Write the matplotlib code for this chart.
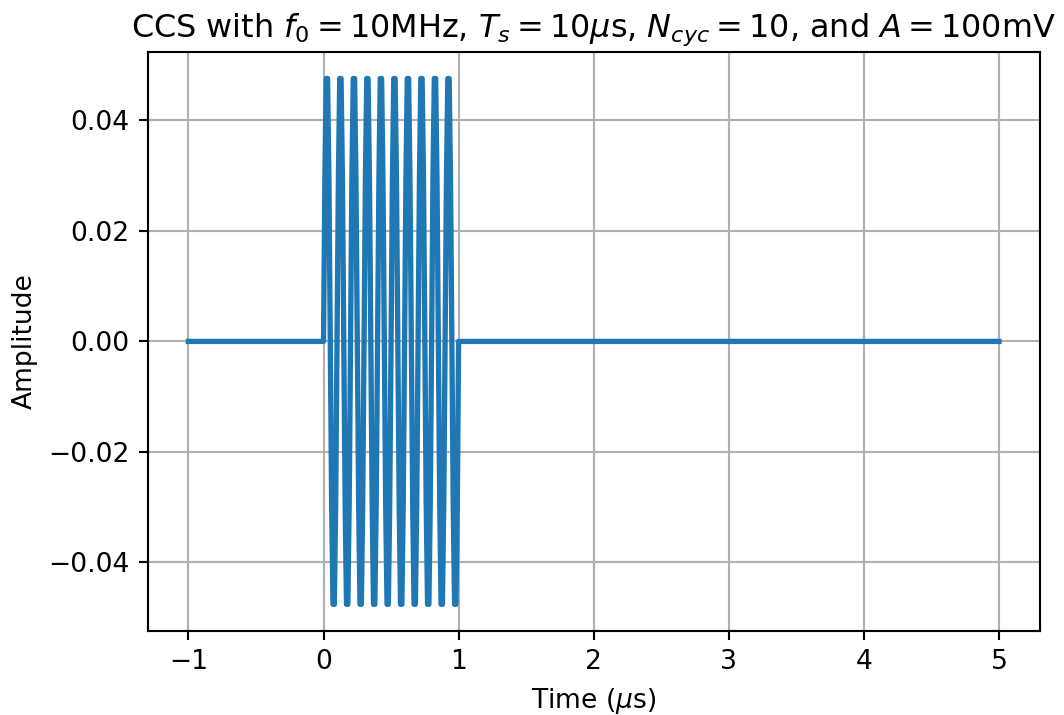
import matplotlib
matplotlib.use("Agg")
import matplotlib.pyplot as plt

# burst samples (us) - 10 samples per 10 MHz cycle, 10 cycles
burst_t = [0.00, 0.01, 0.02, 0.03, 0.04, 0.05, 0.06, 0.07, 0.08, 0.09,
           0.10, 0.11, 0.12, 0.13, 0.14, 0.15, 0.16, 0.17, 0.18, 0.19,
           0.20, 0.21, 0.22, 0.23, 0.24, 0.25, 0.26, 0.27, 0.28, 0.29,
           0.30, 0.31, 0.32, 0.33, 0.34, 0.35, 0.36, 0.37, 0.38, 0.39,
           0.40, 0.41, 0.42, 0.43, 0.44, 0.45, 0.46, 0.47, 0.48, 0.49,
           0.50, 0.51, 0.52, 0.53, 0.54, 0.55, 0.56, 0.57, 0.58, 0.59,
           0.60, 0.61, 0.62, 0.63, 0.64, 0.65, 0.66, 0.67, 0.68, 0.69,
           0.70, 0.71, 0.72, 0.73, 0.74, 0.75, 0.76, 0.77, 0.78, 0.79,
           0.80, 0.81, 0.82, 0.83, 0.84, 0.85, 0.86, 0.87, 0.88, 0.89,
           0.90, 0.91, 0.92, 0.93, 0.94, 0.95, 0.96, 0.97, 0.98, 0.99,
           1.00]
burst_y = [0.0, 0.0294, 0.0476, 0.0476, 0.0294, 0.0, -0.0294, -0.0476, -0.0476, -0.0294,
           0.0, 0.0294, 0.0476, 0.0476, 0.0294, 0.0, -0.0294, -0.0476, -0.0476, -0.0294,
           0.0, 0.0294, 0.0476, 0.0476, 0.0294, 0.0, -0.0294, -0.0476, -0.0476, -0.0294,
           0.0, 0.0294, 0.0476, 0.0476, 0.0294, 0.0, -0.0294, -0.0476, -0.0476, -0.0294,
           0.0, 0.0294, 0.0476, 0.0476, 0.0294, 0.0, -0.0294, -0.0476, -0.0476, -0.0294,
           0.0, 0.0294, 0.0476, 0.0476, 0.0294, 0.0, -0.0294, -0.0476, -0.0476, -0.0294,
           0.0, 0.0294, 0.0476, 0.0476, 0.0294, 0.0, -0.0294, -0.0476, -0.0476, -0.0294,
           0.0, 0.0294, 0.0476, 0.0476, 0.0294, 0.0, -0.0294, -0.0476, -0.0476, -0.0294,
           0.0, 0.0294, 0.0476, 0.0476, 0.0294, 0.0, -0.0294, -0.0476, -0.0476, -0.0294,
           0.0, 0.0294, 0.0476, 0.0476, 0.0294, 0.0, -0.0294, -0.0476, -0.0476, -0.0294,
           0.0]

# zero padding before and after the burst
pre_t = [-1.0]
pre_y = [0.0]
post_t = [5.0]
post_y = [0.0]

t = pre_t + burst_t + post_t
y = pre_y + burst_y + post_y

DPI = 191
fig = plt.figure(figsize=(1064 / DPI, 715 / DPI), dpi=DPI)
fig.subplots_adjust(left=0.139, right=0.977, top=0.927, bottom=0.118)
ax = fig.add_subplot(111)

ax.plot(t, y, color='tab:blue', linewidth=2.0)
ax.grid(True)
ax.set_title(r'CCS with $f_0 = 10$MHz, $T_s = 10\mu$s, $N_{cyc} = 10$, and $A = 100$mV')
ax.set_xlabel(r'Time ($\mu$s)')
ax.set_ylabel('Amplitude')

fig.savefig('out.png', dpi=DPI)
